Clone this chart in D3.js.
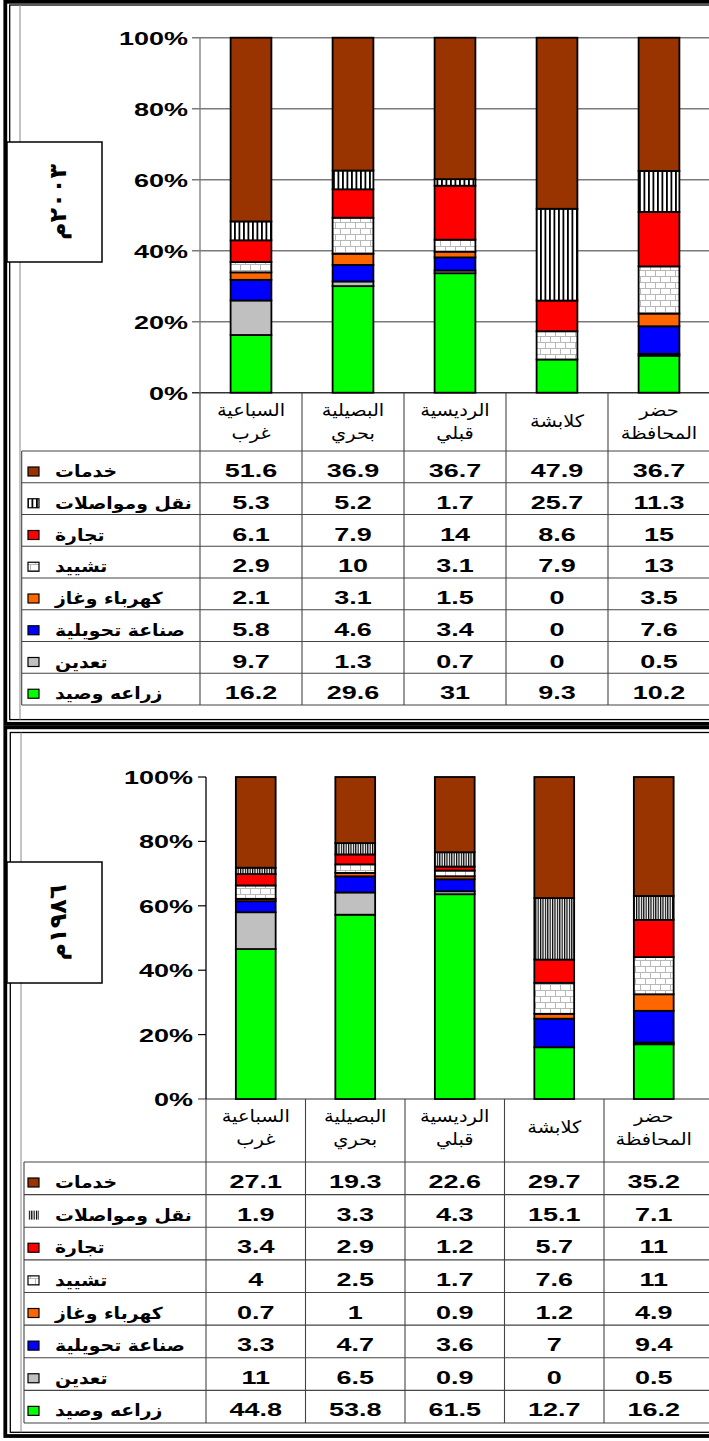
<!DOCTYPE html>
<html>
<head>
<meta charset="utf-8">
<script src="https://cdnjs.cloudflare.com/ajax/libs/d3/7.8.5/d3.min.js"></script>
<style>
  body { margin: 0; background: #fff; }
  svg { display: block; }
</style>
</head>
<body>
<script>
// categories (x axis / table columns)
const categories = [["السباعية", "غرب"], ["البصيلية", "بحري"], ["الرديسية", "قبلي"], ["كلابشة"], ["حضر", "المحافظة"]];
// sectors, from the bottom of the stack to the top
const sectors = ["زراعه وصيد", "تعدين", "صناعة تحويلية", "كهرباء وغاز", "تشييد", "تجارة", "نقل ومواصلات", "خدمات"];
const yTicks = [0, 0.2, 0.4, 0.6, 0.8, 1];

// 2003
const agri2003 = [16.2, 29.6, 31, 9.3, 10.2];
const mining2003 = [9.7, 1.3, 0.7, 0, 0.5];
const manuf2003 = [5.8, 4.6, 3.4, 0, 7.6];
const elec2003 = [2.1, 3.1, 1.5, 0, 3.5];
const constr2003 = [2.9, 10, 3.1, 7.9, 13];
const trade2003 = [6.1, 7.9, 14, 8.6, 15];
const transport2003 = [5.3, 5.2, 1.7, 25.7, 11.3];
const services2003 = [51.6, 36.9, 36.7, 47.9, 36.7];

// 1986
const agri1986 = [44.8, 53.8, 61.5, 12.7, 16.2];
const mining1986 = [11, 6.5, 0.9, 0, 0.5];
const manuf1986 = [3.3, 4.7, 3.6, 7, 9.4];
const elec1986 = [0.7, 1, 0.9, 1.2, 4.9];
const constr1986 = [4, 2.5, 1.7, 7.6, 11];
const trade1986 = [3.4, 2.9, 1.2, 5.7, 11];
const transport1986 = [1.9, 3.3, 4.3, 15.1, 7.1];
const services1986 = [27.1, 19.3, 22.6, 29.7, 35.2];

const W = 709, H = 1441;
const numFont = "bold 19px 'Liberation Sans', Arial, sans-serif";
const numSx = 1.42;
const arSx = 1.14;

const svg = d3.select("body").append("svg")
    .attr("width", W)
    .attr("height", H);

// patterns
const defs = svg.append("defs");
function stripes(id, period, bar) {
  const p = defs.append("pattern").attr("id", id)
      .attr("patternUnits", "userSpaceOnUse")
      .attr("width", period).attr("height", 10);
  p.append("rect").attr("width", period).attr("height", 10).attr("fill", "#fff");
  p.append("rect").attr("width", bar).attr("height", 10).attr("fill", "#000");
}
stripes("stripesWide", 4.5, 1.8);
stripes("stripesDense", 2.4, 1.2);
const br = defs.append("pattern").attr("id", "bricks")
    .attr("patternUnits", "userSpaceOnUse")
    .attr("width", 10).attr("height", 12);
br.append("rect").attr("width", 10).attr("height", 12).attr("fill", "#fff");
br.append("path")
    .attr("d", "M0,0.5H10M0,6.5H10M0.5,0V6M5.5,6V12")
    .attr("stroke", "#b8b8b8").attr("stroke-width", 1).attr("fill", "none");

const panels = [
  {
    values: [agri2003, mining2003, manuf2003, elec2003, constr2003, trade2003, transport2003, services2003],
    year: "٢٠٠٣م",
    frame: [1.8, 723.8], thin: [5, 719.6], thinLeft: 9.7, innerX: 20,
    y100: 37.7, y0: 392.7, axisX: 200, step: 102,
    headerBottom: 451, tableBottom: 705, tableLeft: 21.7,
    grid: true, box: [7, 142, 95, 120], transport: "url(#stripesWide)", legendBorder: true,
    tickLabelX: 188
  },
  {
    values: [agri1986, mining1986, manuf1986, elec1986, constr1986, trade1986, transport1986, services1986],
    year: "١٩٨٦م",
    frame: [727.3, 1436], thin: [732.5, 1432.3], thinLeft: 10.3, innerX: 21,
    y100: 777, y0: 1099, axisX: 206, step: 99.5,
    headerBottom: 1162, tableBottom: 1423, tableLeft: 24,
    grid: false, box: [7, 862, 95, 121], transport: "url(#stripesDense)", legendBorder: false,
    tickLabelX: 193
  }
];

function label(g, x, y, s, font, sx, anchor) {
  return g.append("text")
      .attr("transform", "translate(" + x + "," + y + ") scale(" + sx + ",1)")
      .attr("text-anchor", anchor)
      .style("font", font)
      .attr("fill", "#000")
      .text(s);
}

panels.forEach(function(p) {
  const g = svg.append("g");
  const fills = ["#00ff00", "#c0c0c0", "#0000ff", "#ff6600", "url(#bricks)", "#ff0000", p.transport, "#993300"];

  const x = d3.scaleBand()
      .domain(d3.range(categories.length))
      .range([p.axisX, p.axisX + p.step * categories.length])
      .paddingInner(0.6)
      .paddingOuter(0.3);
  const y = d3.scaleLinear().domain([0, 1]).range([p.y0, p.y100]);

  // frame: thick outer + thin inner + inner chart border
  g.append("rect")
      .attr("x", 5.3).attr("y", p.frame[0])
      .attr("width", 800).attr("height", p.frame[1] - p.frame[0])
      .attr("fill", "none").attr("stroke", "#000").attr("stroke-width", 3.8);
  g.append("rect")
      .attr("x", p.thinLeft).attr("y", p.thin[0])
      .attr("width", 800).attr("height", p.thin[1] - p.thin[0])
      .attr("fill", "none").attr("stroke", "#000").attr("stroke-width", 1.3);
  g.append("line")
      .attr("x1", p.innerX).attr("x2", p.innerX)
      .attr("y1", p.thin[0]).attr("y2", p.thin[1])
      .attr("stroke", "#888").attr("stroke-width", 1);

  // y axis
  const axisColor = p.grid ? "#7a7a7a" : "#000";
  yTicks.forEach(function(t) {
    g.append("line")
        .attr("x1", p.axisX - 8)
        .attr("x2", (p.grid || t === 0) ? W : p.axisX)
        .attr("y1", y(t)).attr("y2", y(t))
        .attr("stroke", t === 0 ? "#333" : axisColor)
        .attr("stroke-width", p.grid ? 1.4 : 1.2);
    label(g, p.tickLabelX, y(t) + 7, d3.format(".0%")(t), numFont, numSx, "end");
  });
  g.append("line")
      .attr("x1", p.axisX).attr("x2", p.axisX)
      .attr("y1", p.y100).attr("y2", p.y0)
      .attr("stroke", axisColor).attr("stroke-width", 1.3);

  // bars
  const rows = categories.map(function(c, i) {
    const o = {};
    p.values.forEach(function(arr, k) { o[k] = arr[i]; });
    return o;
  });
  const series = d3.stack()
      .keys(d3.range(sectors.length))
      .offset(d3.stackOffsetExpand)(rows);

  g.selectAll("g.layer")
      .data(series)
      .enter().append("g")
      .attr("class", "layer")
      .attr("fill", function(d) { return fills[d.key]; })
    .selectAll("rect")
      .data(function(d) { return d; })
      .enter().append("rect")
      .attr("x", function(d, i) { return x(i); })
      .attr("width", x.bandwidth())
      .attr("y", function(d) { return y(d[1]); })
      .attr("height", function(d) { return y(d[0]) - y(d[1]); })
      .attr("stroke", "#000")
      .attr("stroke-width", 1.8);

  // table
  const rowH = (p.tableBottom - p.headerBottom) / sectors.length;
  const lineColor = "#444";
  for (let r = 0; r <= sectors.length; r++) {
    const yy = p.headerBottom + r * rowH;
    g.append("line")
        .attr("x1", p.tableLeft).attr("x2", W)
        .attr("y1", yy).attr("y2", yy)
        .attr("stroke", lineColor).attr("stroke-width", 1.1);
  }
  g.append("line")
      .attr("x1", p.tableLeft).attr("x2", p.tableLeft)
      .attr("y1", p.headerBottom).attr("y2", p.tableBottom)
      .attr("stroke", lineColor).attr("stroke-width", 1.1);
  d3.range(categories.length).forEach(function(i) {
    const xx = p.axisX + i * x.step();
    g.append("line")
        .attr("x1", xx).attr("x2", xx)
        .attr("y1", p.y0).attr("y2", p.tableBottom)
        .attr("stroke", lineColor).attr("stroke-width", 1.1);
  });

  // category header labels
  const arFont = "17px 'DejaVu Sans', sans-serif";
  categories.forEach(function(c, i) {
    const cx = x(i) + x.bandwidth() / 2;
    if (c.length === 1) {
      label(g, cx, p.y0 + 34, c[0], arFont, arSx, "middle");
    } else {
      label(g, cx, p.y0 + 23, c[0], arFont, arSx, "middle");
      label(g, cx, p.y0 + 46, c[1], arFont, arSx, "middle");
    }
  });

  // table rows: top row = last sector
  const legFont = "bold 16.5px 'DejaVu Sans', sans-serif";
  d3.range(sectors.length).forEach(function(r) {
    const k = sectors.length - 1 - r;
    const top = p.headerBottom + r * rowH;
    g.append("rect")
        .attr("x", 28).attr("y", top + 16)
        .attr("width", 11).attr("height", 9)
        .attr("fill", fills[k])
        .attr("stroke", (k === 6 && !p.legendBorder) ? "none" : "#000")
        .attr("stroke-width", 1.2);
    label(g, 55, top + 26, sectors[k], legFont, arSx, "start");
    p.values[k].forEach(function(v, i) {
      label(g, x(i) + x.bandwidth() / 2, top + 26, String(v), numFont, numSx, "middle");
    });
  });

  // year box
  const b = p.box;
  g.append("rect")
      .attr("x", b[0]).attr("y", b[1])
      .attr("width", b[2]).attr("height", b[3])
      .attr("fill", "#fff").attr("stroke", "#000").attr("stroke-width", 1.5);
  g.append("text")
      .attr("transform", "translate(" + (b[0] + b[2] / 2 + 3) + "," + (b[1] + b[3] / 2) + ") rotate(-90)")
      .attr("text-anchor", "middle")
      .attr("dominant-baseline", "central")
      .style("font", "bold 24px 'DejaVu Sans', sans-serif")
      .style("letter-spacing", "2px")
      .text(p.year);
});
</script>
</body>
</html>
